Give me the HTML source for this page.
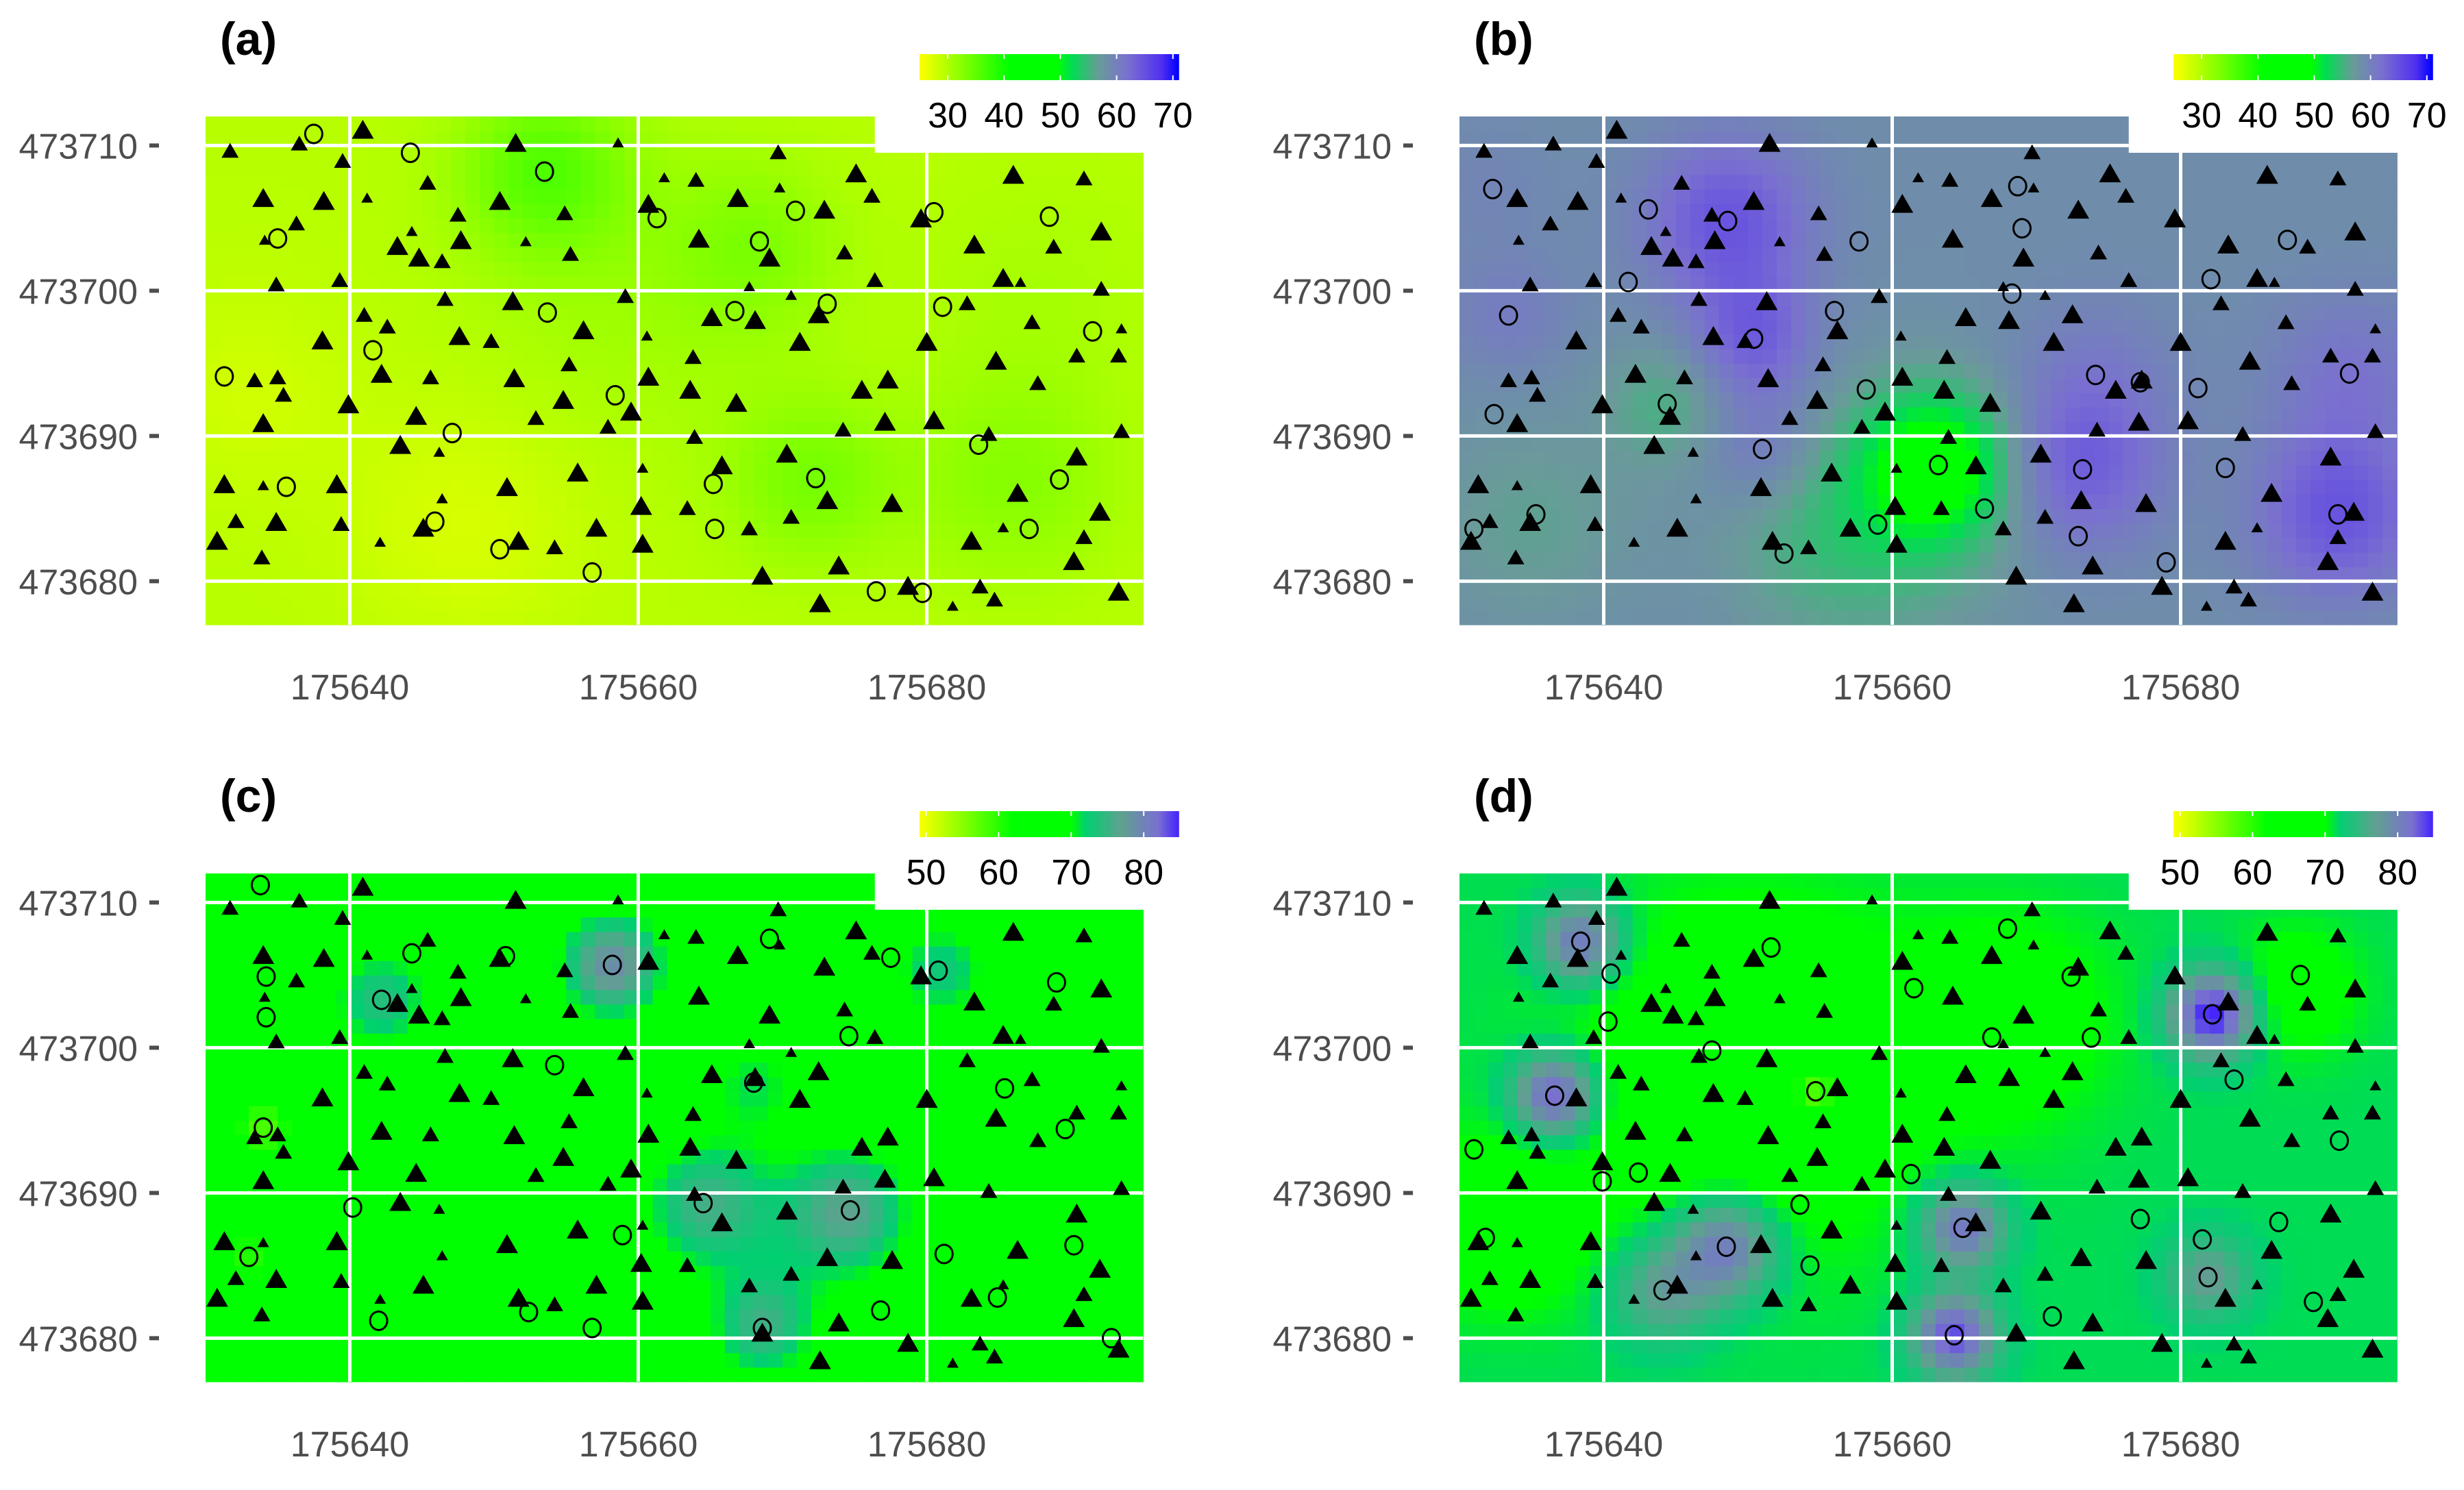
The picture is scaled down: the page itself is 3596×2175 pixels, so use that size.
<!DOCTYPE html>
<html><head><meta charset="utf-8"><style>
html,body{margin:0;padding:0;background:#fff;}
svg{display:block;font-family:"Liberation Sans",sans-serif;}
</style></head><body>
<svg id="fig" width="3596" height="2175" viewBox="0 0 3596 2175" xmlns="http://www.w3.org/2000/svg"></svg>
<script>
// ---- shared point data (easting, northing, size class) ----
const triEast=[175640.9,175636.5,175631.7,175651.5,175658.6,175639.5,175645.4,175641.2,175634.0,175638.2,175650.4,175661.8,175660.7,175636.3,175647.5,175654.9,175644.3,175634.1,175647.7,175652.2,175643.3,175655.3,175644.8,175646.4,175634.9,175639.3,175646.6,175651.3,175659.1,175641.0,175642.6,175638.1,175647.6,175649.8,175656.2,175660.6,175633.4,175635.0,175642.2,175645.6,175651.4,175655.2,175660.7,175635.4,175639.9,175654.8,175659.5,175634.0,175644.6,175652.9,175657.9,175643.5,175646.2,175631.3,175634.0,175639.1,175650.9,175655.8,175646.4,175660.3,175632.1,175634.9,175639.4,175660.2,175645.1,175657.1,175630.8,175642.1,175651.7,175654.2,175660.3,175633.9,
175669.7,175664.0,175675.1,175669.8,175666.9,175676.2,175672.9,175679.6,175686.0,175690.9,175664.2,175669.1,175674.3,175683.3,175688.8,175692.1,175676.4,175685.3,175686.5,175692.1,175667.7,175670.6,175665.1,175668.1,175672.5,175682.8,175687.3,175693.5,175671.2,175680.0,175663.8,175684.8,175690.4,175693.3,175663.6,175666.8,175675.5,175677.3,175687.7,175677.1,175680.5,175674.2,175693.5,175663.9,175684.3,175670.3,175665.8,175690.4,175686.3,175673.1,175677.6,175692.0,175663.4,175670.6,175667.7,175685.3,175683.1,175690.9,175673.9,175690.2,175668.6,175678.7,175683.7,175672.6,175684.7,175681.8,175693.3];
const triNorth=[473710.9,473710.0,473709.5,473710.0,473710.1,473708.8,473707.3,473706.3,473706.2,473706.0,473706.0,473707.7,473705.8,473704.5,473705.1,473705.2,473704.0,473703.4,473703.3,473703.3,473702.9,473702.4,473702.1,473701.9,473700.3,473700.6,473699.3,473699.1,473699.5,473698.2,473697.4,473696.4,473696.7,473696.4,473697.1,473696.8,473693.7,473693.9,473694.1,473693.9,473693.8,473694.8,473693.9,473692.7,473692.0,473692.3,473691.5,473690.7,473691.2,473691.1,473690.5,473689.2,473688.8,473686.5,473686.5,473686.5,473686.3,473687.3,473685.6,473687.7,473684.0,473683.9,473683.8,473685.0,473683.5,473683.5,473682.6,473682.6,473682.6,473682.2,473682.4,473681.5,
473709.4,473707.5,473707.9,473707.0,473706.2,473706.4,473705.4,473704.8,473707.8,473707.6,473703.4,473702.1,473702.5,473703.0,473702.9,473703.9,473700.6,473700.7,473700.5,473700.0,473700.2,473699.6,473698.0,473697.8,473698.2,473699.0,473697.7,473697.3,473696.3,473696.3,473695.3,473695.0,473695.4,473695.4,473693.0,473692.1,473693.0,473693.7,473693.5,473690.8,473690.9,473690.3,473690.2,473689.8,473690.0,473688.6,473687.8,473688.4,473685.9,473685.4,473685.2,473684.6,473684.9,473684.3,473683.5,473683.6,473682.6,473682.9,473680.9,473681.2,473680.2,473679.5,473679.5,473678.3,473678.6,473678.2,473679.1];
const triSize=[3,2,2,3,1,2,2,1,3,3,3,1,3,2,2,2,1,1,3,1,3,2,3,2,2,2,2,3,2,2,2,3,3,2,3,1,2,2,3,2,3,2,3,2,3,3,3,3,3,2,2,3,1,3,1,3,3,3,1,1,2,3,2,3,3,3,3,1,3,2,3,2,
2,2,3,1,3,2,3,3,3,2,3,3,2,3,2,3,2,3,1,2,1,1,3,3,3,2,2,1,3,3,2,3,2,2,3,3,3,3,2,3,3,2,2,2,2,3,3,3,3,3,3,3,2,2,2,1,3,2,3,3,3,3,2,3,2,1,3];

// ---- circles per panel ----
const circEastA=[175637.5,175644.2,175653.5,175661.3,175635.0,175653.7,175641.6,175631.3,175658.4,175647.1,175635.6,175645.9,175650.4,175656.8,175670.9,175668.4,175680.5,175688.5,175666.7,175673.1,175681.1,175691.5,175683.6,175672.3,175689.2,175665.2,175665.3,175687.1,175676.5,175679.7];
const circNorthA=[473710.8,473709.5,473708.2,473705.0,473703.6,473698.5,473695.9,473694.1,473692.8,473690.2,473686.5,473684.1,473682.2,473680.6,473705.5,473703.4,473705.4,473705.1,473698.6,473699.1,473698.9,473697.2,473689.4,473687.1,473687.0,473686.7,473683.6,473683.6,473679.3,473679.2];
const circEastB=[175632.3,175633.4,175632.4,175631.0,175635.3,175643.1,175641.7,175644.4,175648.6,175650.4,175651.0,175652.5,175657.7,175656.0,175658.2,175659.0,175663.2,175666.4,175669.0,175668.7,175668.3,175672.9,175673.2,175674.1,175677.2,175681.2,175682.1,175683.1,175679.0,175687.4,175691.7,175690.9];
const circNorthB=[473707.0,473698.3,473691.5,473683.6,473684.6,473705.6,473700.6,473692.2,473704.8,473696.7,473689.1,473681.9,473703.4,473698.6,473693.2,473683.9,473688.0,473685.0,473704.3,473707.2,473699.8,473683.1,473687.7,473694.2,473693.7,473693.3,473700.8,473687.8,473681.3,473703.5,473694.3,473684.6];
const circEastC=[175633.8,175634.2,175634.2,175634.0,175633.0,175644.3,175642.2,175650.8,175654.2,175642.0,175640.2,175652.4,175658.2,175658.9,175656.8,175664.5,175668.0,175669.1,175674.6,175674.7,175668.6,175676.8,175677.5,175680.8,175681.2,175689.0,175685.4,175689.6,175690.2,175684.9,175692.8];
const circNorthC=[473711.2,473704.9,473702.1,473694.5,473685.6,473706.5,473703.3,473706.3,473698.8,473681.2,473689.0,473681.8,473705.7,473687.1,473680.7,473689.3,473697.6,473707.5,473700.8,473688.8,473680.7,473681.9,473706.2,473705.3,473685.8,473704.5,473697.2,473694.4,473686.4,473682.8,473680.0];
const circEastD=[175638.4,175640.5,175640.3,175636.6,175631.0,175631.8,175639.9,175642.4,175644.1,175648.5,175647.5,175651.6,175654.7,175653.6,175654.3,175661.5,175661.3,175664.9,175664.3,175668.0,175666.9,175672.4,175671.1,175673.8,175677.2,175681.5,175681.9,175682.2,175683.7,175686.8,175688.3,175691.0,175689.2];
const circNorthD=[473707.3,473705.1,473701.8,473696.7,473693.0,473686.9,473690.8,473691.4,473683.3,473686.3,473699.8,473706.9,473697.0,473689.2,473685.0,473704.1,473691.3,473687.6,473680.2,473708.2,473700.7,473704.9,473681.5,473700.7,473688.2,473686.8,473684.2,473702.3,473697.8,473688.0,473705.0,473693.6,473682.5];

// ---- interpolated surface: base value + local anomalies [east, north, delta, radius] ----
const baseA=29.5, baseB=58.5, baseC=66, baseD=71.5;
const bumpsA=[[175653.5,473708.2,6,4],[175668,473703,3,4],[175672,473687,4,4],[175686,473687,3,5],[175648,473684,-2,6],[175633,473693,-1.5,5],[175660,473700,1.5,8],[175688,473700,1,6]];
const bumpsB=[[175648.6,473704.8,6,4],[175650.4,473696.7,5,3],[175651,473689.1,3,3],[175673,473687.7,5,4],[175690.9,473684.6,6,4],[175674.1,473694.2,2,4],[175691.7,473694.3,3,4],[175632.3,473707,1,3],[175633.4,473698.3,2,3],[175663.2,473688,-10,3.5],[175660,473685,-3,6],[175644.4,473692.2,-3,3],[175655,473683,-2,5],[175635,473684,-2,5]];
const bumpsC=[[175658.2,473705.7,13,2.5],[175642.2,473703.3,8,2.5],[175681,473705.3,7,2.5],[175664.5,473689.3,8,3],[175674.7,473688.8,9,3],[175668.6,473680.7,8,2.5],[175668,473697.6,5,2.5],[175670,473687,3,5],[175634.0,473694.5,-8,1.5],[175633,473685.6,-6,1.5]];
const bumpsD=[[175638.4,473707.3,10,2],[175636.6,473696.7,12,2],[175648.5,473686.3,10,2.5],[175644.1,473683.3,6,2.5],[175664.9,473687.6,10,2],[175664.3,473680.2,12,2],[175682.2,473702.3,14,2],[175681.9,473684.2,6,2],[175654.7,473697,-10,1.2],[175650,473698,-5,8],[175668,473702,-3,5],[175688,473704,-3,3],[175633,473688,-4,4]];

// ---- colour scales ----
const stopsAB=[[25,[255,255,0]],[41,[0,255,0]],[49.5,[0,255,0]],[52,[0,221,80]],[57,[106,154,154]],[62,[122,112,208]],[68,[80,48,240]],[71,[0,0,255]]];
const stopsCD=[[49,[255,255,0]],[62,[0,255,0]],[70,[0,255,0]],[72,[0,208,112]],[77,[96,160,144]],[82,[122,112,208]],[85,[64,32,255]]];
const ticksAB=[30,40,50,60,70], ticksCD=[50,60,70,80];
const xTicks=[175640,175660,175680], yTicks=[473680,473690,473700,473710];

const NS="http://www.w3.org/2000/svg";
const svg=document.getElementById('fig');
function mk(tag,attrs,parent){const e=document.createElementNS(NS,tag);for(const k in attrs)e.setAttribute(k,attrs[k]);(parent||svg).appendChild(e);return e;}
function col(stops,v){
  if(v<=stops[0][0])return stops[0][1];
  for(let i=1;i<stops.length;i++){if(v<=stops[i][0]){const a=stops[i-1],b=stops[i];const t=(v-a[0])/(b[0]-a[0]);return a[1].map((c,j)=>Math.round(c+(b[1][j]-c)*t));}}
  return stops[stops.length-1][1];
}
const X0=175630,X1=175695,Y0=473677,Y1=473712;
const PX=21.05, PY=21.2;

function panel(key,ox,oy,base,bumps,stops,ticks,lmin,lmax,cE,cN){
  const g=mk('g',{});
  
  
  const sx=x=>ox+300+(x-X0)*PX, sy=y=>oy+170+(Y1-y)*PY;
  const t=mk('text',{x:ox+321,y:oy+80,'font-size':68,'font-weight':'bold',fill:'#000'},g);
  t.textContent='('+key+')';
  
  
  const hm=mk('g',{},g);
  
  
  for(let x=X0;x<X1;x++){for(let y=Y0;y<Y1;y++){
    const cx=x+0.5,cy=y+0.5;let v=base;
    for(const b of bumps){const d2=(cx-b[0])**2+(cy-b[1])**2;v+=b[2]*Math.exp(-d2/(2*b[3]*b[3]));}
    const c=col(stops,v);
    mk('rect',{x:sx(x).toFixed(1),y:sy(y+1).toFixed(1),width:(PX+0.6).toFixed(1),height:(PY+0.6).toFixed(1),fill:'rgb('+c.join(',')+')'},hm);
  }}
  mk('rect',{x:sx(175676.4),y:oy+160,width:sx(X1)-sx(175676.4)+4,height:sy(473709.5)-(oy+160),fill:'#fff'},g);
  for(const xv of xTicks){const l=mk('line',{x1:sx(xv),x2:sx(xv),y1:sy(Y1),y2:sy(Y0),stroke:'#fff','stroke-width':5},g);
    }
  for(const yv of yTicks){const l=mk('line',{x1:sx(X0),x2:(yv>473709.5?sx(175676.4):sx(X1)),y1:sy(yv),y2:sy(yv),stroke:'#fff','stroke-width':5},g);
    }
  for(const yv of yTicks){
    const tx=mk('text',{x:ox+201,y:sy(yv)+19,'font-size':52,fill:'#4d4d4d','text-anchor':'end'},g);
    tx.textContent=yv;
    
    
    mk('rect',{x:ox+218,y:sy(yv)-3,width:14,height:6,fill:'#4d4d4d'},g);
  }
  for(const xv of xTicks){
    const tx=mk('text',{x:sx(xv),y:oy+1021,'font-size':52,fill:'#4d4d4d','text-anchor':'middle'},g);
    tx.textContent=xv;
    
    
  }
  const hw=[0,8.5,12.5,16];
  for(let i=0;i<triEast.length;i++){
    const cx=sx(triEast[i]),cy=sy(triNorth[i]),w=hw[triSize[i]],h=w*1.73;
    const p=mk('polygon',{points:`${cx},${cy-h*2/3} ${cx-w},${cy+h/3} ${cx+w},${cy+h/3}`,fill:'#000'},g);
    
    
  }
  for(let i=0;i<cE.length;i++){
    const c=mk('ellipse',{cx:sx(cE[i]),cy:sy(cN[i]),rx:12.5,ry:13.5,fill:'none',stroke:'#000','stroke-width':3},g);
    
    
  }
  const lg=mk('g',{},g);
  
  
  const L0=ox+1342,L1=ox+1720,ly=oy+79,lh=38;
  const lx=v=>L0+(v-lmin)/(lmax-lmin)*(L1-L0);
  for(let i=0;i<120;i++){const v=lmin+(lmax-lmin)*(i+0.5)/120;const c=col(stops,v);
    mk('rect',{x:L0+(L1-L0)*i/120,y:ly,width:(L1-L0)/120+0.8,height:lh,fill:'rgb('+c.join(',')+')'},lg);}
  for(const tv of ticks){
    mk('line',{x1:lx(tv),x2:lx(tv),y1:ly,y2:ly+7,stroke:'#fff','stroke-width':2},lg);
    mk('line',{x1:lx(tv),x2:lx(tv),y1:ly+lh-7,y2:ly+lh,stroke:'#fff','stroke-width':2},lg);
    const tx=mk('text',{x:lx(tv),y:oy+186,'font-size':52,fill:'#000','text-anchor':'middle'},lg);
    tx.textContent=tv;
    
    
  }
}
panel('a',0,0,baseA,bumpsA,stopsAB,ticksAB,25,71,circEastA,circNorthA);
panel('b',1830,0,baseB,bumpsB,stopsAB,ticksAB,25,71,circEastB,circNorthB);
panel('c',0,1105,baseC,bumpsC,stopsCD,ticksCD,49.1,84.8,circEastC,circNorthC);
panel('d',1830,1105,baseD,bumpsD,stopsCD,ticksCD,49.1,84.8,circEastD,circNorthD);
</script>
</body></html>
